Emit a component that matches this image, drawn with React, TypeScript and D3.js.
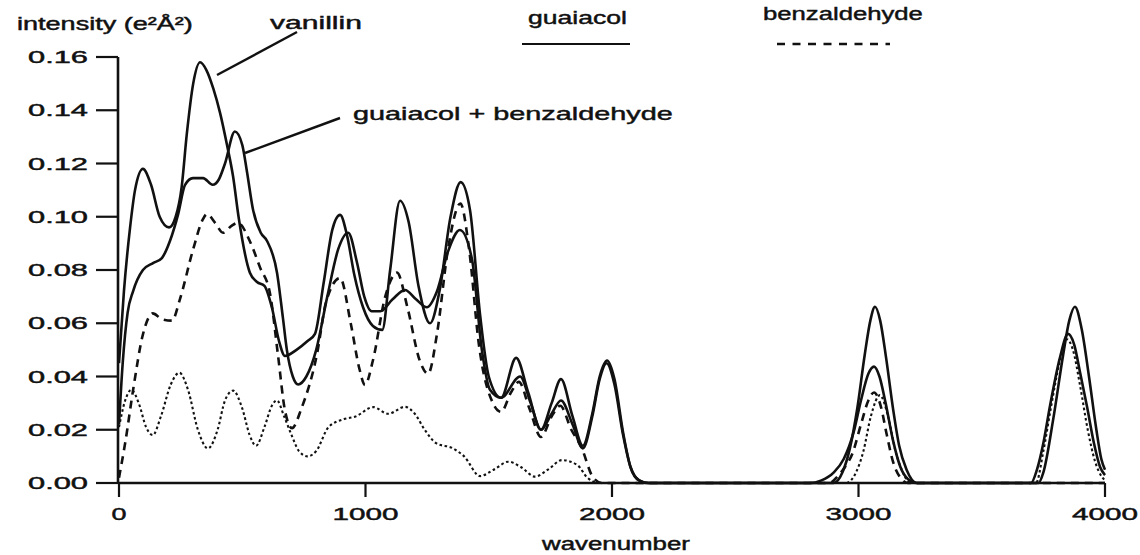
import React, { useLayoutEffect, useRef, useState } from "react";
import * as d3 from "d3";

type Pt = [number, number];

const yTicks = [0, 0.02, 0.04, 0.06, 0.08, 0.1, 0.12, 0.14, 0.16];
const yTickLabels = ["0.00", "0.02", "0.04", "0.06", "0.08", "0.10", "0.12", "0.14", "0.16"];
const xTicks = [0, 1000, 2000, 3000, 4000];
const xTickLabels = ["0", "1000", "2000", "3000", "4000"];

// vanillin (solid)
const vanillin: Pt[] = [
  [0, 0.045], [20, 0.072], [45, 0.096], [65, 0.11], [97, 0.118], [130, 0.112], [165, 0.1],
  [203, 0.096], [230, 0.1], [254, 0.111], [275, 0.131], [301, 0.15], [329, 0.158], [355, 0.155],
  [383, 0.148], [410, 0.139], [438, 0.127], [463, 0.115], [485, 0.1], [531, 0.079], [560, 0.0755],
  [590, 0.074], [620, 0.066], [650, 0.053], [673, 0.0477], [720, 0.05], [765, 0.0533], [795, 0.056],
  [830, 0.075], [865, 0.095], [897, 0.1007], [925, 0.093], [955, 0.078], [990, 0.066], [1030, 0.059],
  [1068, 0.0575], [1100, 0.08], [1140, 0.106], [1175, 0.098], [1215, 0.074], [1262, 0.06], [1300, 0.072],
  [1345, 0.1], [1386, 0.113], [1424, 0.1025], [1465, 0.063], [1500, 0.04], [1550, 0.032], [1611, 0.047],
  [1660, 0.034], [1712, 0.02], [1755, 0.03], [1793, 0.039], [1840, 0.025], [1882, 0.014], [1920, 0.026],
  [1950, 0.04], [1980, 0.046], [2010, 0.039], [2045, 0.019], [2075, 0.006], [2110, 0.001], [2150, 0],
  [2900, 0], [2935, 0.004], [2965, 0.013], [2995, 0.028], [3025, 0.048], [3048, 0.061], [3067, 0.0662],
  [3088, 0.061], [3112, 0.047], [3140, 0.028], [3165, 0.014], [3195, 0.005], [3237, 0], [3730, 0],
  [3750, 0.004], [3790, 0.024], [3830, 0.048], [3855, 0.061], [3878, 0.0662], [3905, 0.058],
  [3935, 0.04], [3965, 0.02], [3985, 0.009], [4000, 0.005],
];

// guaiacol + benzaldehyde (solid)
const guaiacolBenz: Pt[] = [
  [0, 0.022], [15, 0.045], [35, 0.064], [57, 0.072], [97, 0.08], [138, 0.0826], [174, 0.0845],
  [207, 0.091], [240, 0.101], [268, 0.112], [300, 0.1145], [341, 0.1145], [380, 0.112], [405, 0.114],
  [430, 0.12], [470, 0.132], [500, 0.127], [519, 0.117], [544, 0.1025], [575, 0.094], [600, 0.091],
  [641, 0.079], [665, 0.062], [681, 0.05], [705, 0.04], [727, 0.037], [760, 0.04], [800, 0.05],
  [845, 0.07], [890, 0.088], [930, 0.094], [965, 0.083], [995, 0.07], [1025, 0.0645], [1060, 0.0645],
  [1110, 0.069], [1160, 0.0725], [1205, 0.069], [1249, 0.066], [1290, 0.072], [1335, 0.087],
  [1383, 0.095], [1432, 0.084], [1472, 0.05], [1505, 0.035], [1550, 0.032], [1627, 0.04], [1670, 0.03],
  [1712, 0.02], [1755, 0.026], [1793, 0.031], [1840, 0.022], [1882, 0.013], [1920, 0.025], [1950, 0.039],
  [1978, 0.045], [2010, 0.037], [2045, 0.018], [2075, 0.006], [2110, 0.001], [2150, 0], [2800, 0],
  [2850, 0.001], [2900, 0.004], [2940, 0.009], [2980, 0.019], [3010, 0.031], [3040, 0.041],
  [3063, 0.0437], [3085, 0.04], [3110, 0.03], [3140, 0.016], [3170, 0.006], [3200, 0.0015], [3235, 0],
  [3700, 0], [3724, 0.005], [3750, 0.015], [3777, 0.029], [3817, 0.047], [3850, 0.056], [3875, 0.052],
  [3900, 0.041], [3927, 0.0287], [3955, 0.015], [3980, 0.006], [4000, 0.003],
];

// benzaldehyde (dashed)
const benzaldehyde: Pt[] = [
  [0, 0.002], [25, 0.015], [59, 0.036], [95, 0.055], [137, 0.0637], [175, 0.0615], [215, 0.061],
  [247, 0.069], [300, 0.0875], [340, 0.099], [357, 0.101], [390, 0.0977], [422, 0.094], [455, 0.0965],
  [483, 0.0977], [530, 0.091], [572, 0.081], [613, 0.071], [645, 0.048], [673, 0.0274], [702, 0.0206],
  [740, 0.028], [804, 0.0488], [840, 0.068], [897, 0.077], [940, 0.06], [975, 0.043], [998, 0.0368],
  [1030, 0.046], [1080, 0.07], [1128, 0.079], [1170, 0.066], [1220, 0.046], [1254, 0.041], [1290, 0.056],
  [1335, 0.088], [1385, 0.105], [1420, 0.088], [1460, 0.052], [1517, 0.03], [1550, 0.0267], [1590, 0.034],
  [1622, 0.038], [1665, 0.028], [1712, 0.0173], [1755, 0.025], [1790, 0.029], [1835, 0.02], [1875, 0.0136],
  [1924, 0.002], [1960, 0], [2880, 0], [2920, 0.003], [2945, 0.006], [2975, 0.011], [3010, 0.022],
  [3040, 0.031], [3063, 0.034], [3090, 0.029], [3115, 0.018], [3140, 0.008], [3170, 0.002], [3200, 0],
  [4000, 0],
];

// guaiacol (dotted)
const guaiacol: Pt[] = [
  [0, 0.021], [25, 0.031], [50, 0.035], [80, 0.03], [110, 0.021], [137, 0.018], [170, 0.025],
  [210, 0.037], [245, 0.0414], [280, 0.035], [320, 0.02], [361, 0.013], [400, 0.02], [430, 0.031],
  [463, 0.0347], [500, 0.028], [530, 0.018], [556, 0.014], [590, 0.021], [620, 0.029], [641, 0.031],
  [670, 0.025], [700, 0.018], [730, 0.012], [765, 0.01], [800, 0.012], [850, 0.021], [913, 0.024],
  [960, 0.025], [1031, 0.0285], [1092, 0.026], [1160, 0.0286], [1200, 0.026], [1240, 0.02],
  [1286, 0.015], [1355, 0.013], [1400, 0.01], [1465, 0.0026], [1520, 0.005], [1580, 0.008],
  [1630, 0.006], [1688, 0.0024], [1740, 0.005], [1797, 0.0086], [1860, 0.0067], [1900, 0.002],
  [1950, 0], [2950, 0], [2990, 0.004], [3020, 0.012], [3050, 0.025], [3087, 0.033], [3120, 0.025],
  [3150, 0.012], [3180, 0.004], [3210, 0], [3720, 0], [3750, 0.012], [3780, 0.028], [3815, 0.045],
  [3845, 0.054], [3870, 0.05], [3900, 0.036], [3930, 0.02], [3960, 0.008], [3990, 0.002], [4000, 0.001],
];

const W = 1140;
const H = 555;
const FONT = "'Liberation Sans', Arial, Helvetica, sans-serif";
const INK = "#111";

// text stretched horizontally to a target width (the reference glyphs are wide and heavy)
function Label(props: { x: number; y: number; width: number; size: number; children: string }) {
  const ref = useRef<SVGTextElement>(null);
  const [sx, setSx] = useState(1);
  useLayoutEffect(() => {
    if (ref.current) {
      const w = ref.current.getComputedTextLength();
      if (w > 0) setSx(props.width / w);
    }
  }, [props.width, props.children, props.size]);
  return (
    <text
      ref={ref}
      transform={`translate(${props.x},${props.y}) scale(${sx},1)`}
      fontFamily={FONT}
      fontSize={props.size}
      fill={INK}
      stroke={INK}
      strokeWidth={0.45}
    >
      {props.children}
    </text>
  );
}

export default function App() {
  const x = d3.scaleLinear().domain([0, 4000]).range([119, 1105]);
  const y = d3.scaleLinear().domain([0, 0.16]).range([483, 57]);
  const line = d3
    .line<Pt>()
    .x((d) => x(d[0]))
    .y((d) => y(d[1]))
    .curve(d3.curveMonotoneX);

  const axisX = 118;
  const axisY = y(0);

  return (
    <div style={{ position: "absolute", left: 0, top: 0 }}>
      <svg width={W} height={H} style={{ display: "block", background: "#fff" }}>
        <rect width={W} height={H} fill="#fff" />
        {/* curves */}
        <path d={line(guaiacol) || ""} fill="none" stroke={INK} strokeWidth={2.1} strokeDasharray="2.6,2.6" />
        <path d={line(benzaldehyde) || ""} fill="none" stroke={INK} strokeWidth={2.6} strokeDasharray="8,6" />
        <path d={line(guaiacolBenz) || ""} fill="none" stroke={INK} strokeWidth={2.6} />
        <path d={line(vanillin) || ""} fill="none" stroke={INK} strokeWidth={2.6} />

        {/* axes */}
        <line x1={axisX} x2={axisX} y1={y(0.16)} y2={axisY} stroke={INK} strokeWidth={2.6} />
        <line x1={axisX} x2={x(4000)} y1={axisY} y2={axisY} stroke={INK} strokeWidth={2.6} />
        {yTicks.map((t, i) => (
          <g key={"yt" + i}>
            <line x1={96} x2={axisX} y1={y(t)} y2={y(t)} stroke={INK} strokeWidth={2.2} />
            <Label x={28} y={y(t) + 6} width={60} size={17}>
              {yTickLabels[i]}
            </Label>
          </g>
        ))}
        {xTicks.map((t, i) => {
          const w = xTickLabels[i].length === 1 ? 15 : 66;
          return (
            <g key={"xt" + i}>
              <line x1={x(t)} x2={x(t)} y1={axisY} y2={axisY + 14} stroke={INK} strokeWidth={2.2} />
              <Label x={x(t) - w / 2} y={520} width={w} size={17}>
                {xTickLabels[i]}
              </Label>
            </g>
          );
        })}

        {/* axis titles */}
        <Label x={17} y={30} width={176} size={18}>
          intensity (e²Å²)
        </Label>
        <Label x={542} y={550} width={148} size={18}>
          wavenumber
        </Label>

        {/* annotations */}
        <Label x={270} y={29} width={92} size={19}>
          vanillin
        </Label>
        <line x1={297} y1={32} x2={217} y2={75} stroke={INK} strokeWidth={2.4} />
        <Label x={353} y={120} width={320} size={19}>
          guaiacol + benzaldehyde
        </Label>
        <line x1={340} y1={118} x2={245} y2={153} stroke={INK} strokeWidth={2.4} />

        {/* legend */}
        <Label x={528} y={24} width={99} size={19}>
          guaiacol
        </Label>
        <line x1={522} x2={630} y1={44} y2={44} stroke={INK} strokeWidth={1.8} />
        <Label x={763} y={20} width={160} size={19}>
          benzaldehyde
        </Label>
        <line x1={777} x2={890} y1={44} y2={44} stroke={INK} strokeWidth={2.4} strokeDasharray="8,7.5" />
      </svg>
    </div>
  );
}
